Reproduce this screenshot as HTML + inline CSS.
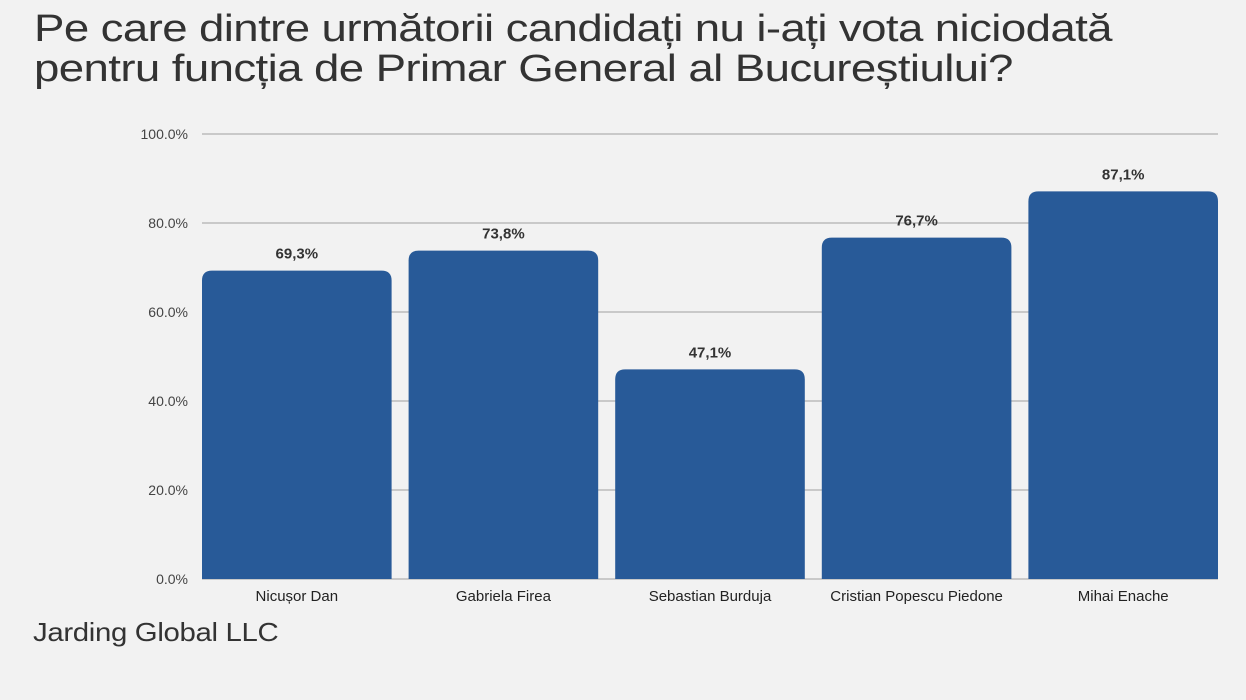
<!DOCTYPE html>
<html><head><meta charset="utf-8"><style>
body{margin:0;width:1246px;height:700px;background:#f2f2f2;font-family:"Liberation Sans",sans-serif;overflow:hidden;position:relative}
h1{position:absolute;left:34px;top:9px;margin:0;font-weight:normal;font-size:38px;line-height:40px;color:#333;letter-spacing:-0.5px;transform-origin:0 0;transform:scaleX(1.2);white-space:nowrap}
.src{position:absolute;left:33px;top:617px;font-size:26px;color:#333;letter-spacing:-0.3px;transform-origin:0 0;transform:scaleX(1.13);white-space:nowrap}
</style></head><body>
<h1>Pe care dintre următorii candidați nu i-ați vota niciodată<br>pentru funcția de Primar General al Bucureștiului?</h1>
<svg id="c" width="1246" height="700" style="position:absolute;left:0;top:0"></svg>
<div class="src">Jarding Global LLC</div>
<script>
const categories=["Nicușor Dan","Gabriela Firea","Sebastian Burduja","Cristian Popescu Piedone","Mihai Enache"];
const values=[69.3,73.8,47.1,76.7,87.1];
const valueLabels=["69,3%","73,8%","47,1%","76,7%","87,1%"];
const ticks=[0,20,40,60,80,100];
const tickLabels=["0.0%","20.0%","40.0%","60.0%","80.0%","100.0%"];
const svg=document.getElementById('c'),NS="http://www.w3.org/2000/svg";
const x0=202,x1=1218,yTop=134,yBot=579,maxV=100,gap=17;
const y=v=>yBot-(yBot-yTop)*v/maxV;
const n=categories.length,bw=(x1-x0-gap*(n-1))/n;
function mk(t,a,txt){const e=document.createElementNS(NS,t);for(const k in a)e.setAttribute(k,a[k]);if(txt!=null)e.textContent=txt;svg.appendChild(e);return e;}
ticks.forEach((t,i)=>{
 const l=mk('line',{x1:x0,x2:x1,y1:y(t),y2:y(t),stroke:'#bbb','stroke-width':1.5});
 
 
 const tx=mk('text',{x:188,y:y(t)+5,'text-anchor':'end','font-size':14,fill:'#444'},tickLabels[i]);
 
 
});
values.forEach((v,i)=>{
 const X=x0+i*(bw+gap),Y=y(v),r=10;
 const p=mk('path',{d:`M${X},${yBot}V${Y+r}Q${X},${Y} ${X+r},${Y}H${X+bw-r}Q${X+bw},${Y} ${X+bw},${Y+r}V${yBot}Z`,fill:'#285a98'});
 
 
 const vl=mk('text',{x:X+bw/2,y:Y-12,'text-anchor':'middle','font-size':15,'font-weight':'bold',fill:'#333'},valueLabels[i]);
 
 
 const cl=mk('text',{x:X+bw/2,y:601,'text-anchor':'middle','font-size':15,fill:'#222'},categories[i]);
 
 
});
</script>
</body></html>
